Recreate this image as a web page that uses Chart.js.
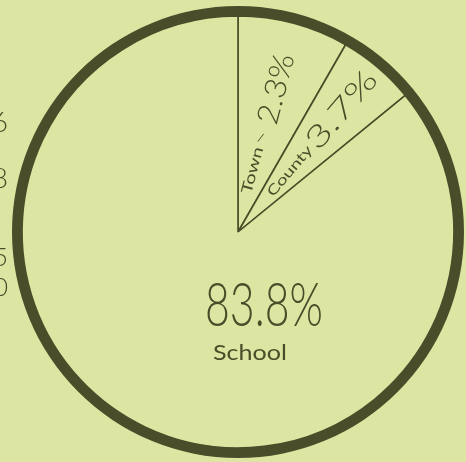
<!DOCTYPE html>
<html>
<head>
<meta charset="utf-8">
<script src="https://cdn.jsdelivr.net/npm/chart.js@4/dist/chart.umd.min.js"></script>
<style>
  html, body { margin: 0; padding: 0; background: #dce5a1; }
  #wrap { width: 466px; height: 462px; overflow: hidden; }
</style>
</head>
<body>
<div id="wrap"><canvas id="pie" width="466" height="462"></canvas></div>
<script>
// wedges, clockwise from the top
var categories = ['Town', 'County', 'School'];
// percentages as written on the drawing
var printedPct = ['2.3%', '3.7%', '83.8%'];
// share of the circle each wedge actually takes in the sketch (it is not drawn to scale)
var wedgeShare = [8.3, 5.8, 85.9];
// the heavy rim is one full ring
var rimData = [100];

var paper = '#dce5a1';
var ink = '#4a4d29';

var ctx = document.getElementById('pie').getContext('2d');

// writes text centred at (x, y), turned by rot, squeezed to a given width
function writeHand(c, text, x, y, rot, font, width) {
    c.save();
    c.translate(x, y);
    c.rotate(rot);
    c.font = font;
    var w = c.measureText(text).width;
    if (width) c.scale(width / w, 1);
    c.fillText(text, 0, 0);
    c.restore();
}

var handLabels = {
    id: 'handLabels',
    afterDatasetsDraw: function(chart) {
        var c = chart.ctx;
        var arcs = chart.getDatasetMeta(1).data;
        var cx = arcs[0].x, cy = arcs[0].y;
        c.save();
        c.fillStyle = ink;
        c.textAlign = 'center';
        c.textBaseline = 'middle';

        function mid(i) { return (arcs[i].startAngle + arcs[i].endAngle) / 2; }
        function along(i, r) {
            var a = mid(i);
            return [cx + r * Math.cos(a), cy + r * Math.sin(a)];
        }

        // Town wedge
        var a0 = mid(0), p;
        p = along(0, 64);
        writeHand(c, categories[0], p[0] - 2, p[1], a0, '15px Lato', 48);
        p = along(0, 98);
        writeHand(c, '\u2013', p[0] - 3, p[1], a0 + 0.4, '300 20px Lato', 14);
        p = along(0, 148);
        writeHand(c, printedPct[0], p[0], p[1], a0, '300 30px Lato', 72);

        // County wedge
        var a1 = mid(1);
        p = along(1, 80);
        writeHand(c, categories[1], p[0], p[1], a1, '14px Lato', 62);
        p = along(1, 160);
        writeHand(c, printedPct[1], p[0], p[1], a1, '300 30px Lato', 94);

        // School wedge
        writeHand(c, printedPct[2], cx + 26, cy + 74, 0, '300 62px Lato', 118);
        writeHand(c, categories[2], cx + 12, cy + 121, 0, '21px Lato', 74);

        // cut-off figures of the neighbouring drawing at the left edge
        c.textAlign = 'right';
        writeHand(c, '6', 8, 123, 0, '300 28px Lato');
        writeHand(c, '8', 8, 179, 0, '300 28px Lato');
        writeHand(c, '5', 8, 258, 0, '300 26px Lato');
        writeHand(c, '0', 8, 288, 0, '300 26px Lato');
        c.restore();
    }
};

new Chart(ctx, {
    type: 'pie',
    data: {
        labels: categories,
        datasets: [{
            // outer rim
            data: rimData,
            backgroundColor: ink,
            borderWidth: 0,
            weight: 10
        }, {
            data: wedgeShare,
            backgroundColor: paper,
            borderColor: ink,
            borderWidth: 1.6,
            weight: 215
        }]
    },
    options: {
        responsive: false,
        animation: false,
        layout: {
            padding: { left: 12, right: 2, top: 6, bottom: 4 }
        },
        plugins: {
            legend: { display: false },
            tooltip: { enabled: false }
        }
    },
    plugins: [handLabels]
});
</script>
</body>
</html>
